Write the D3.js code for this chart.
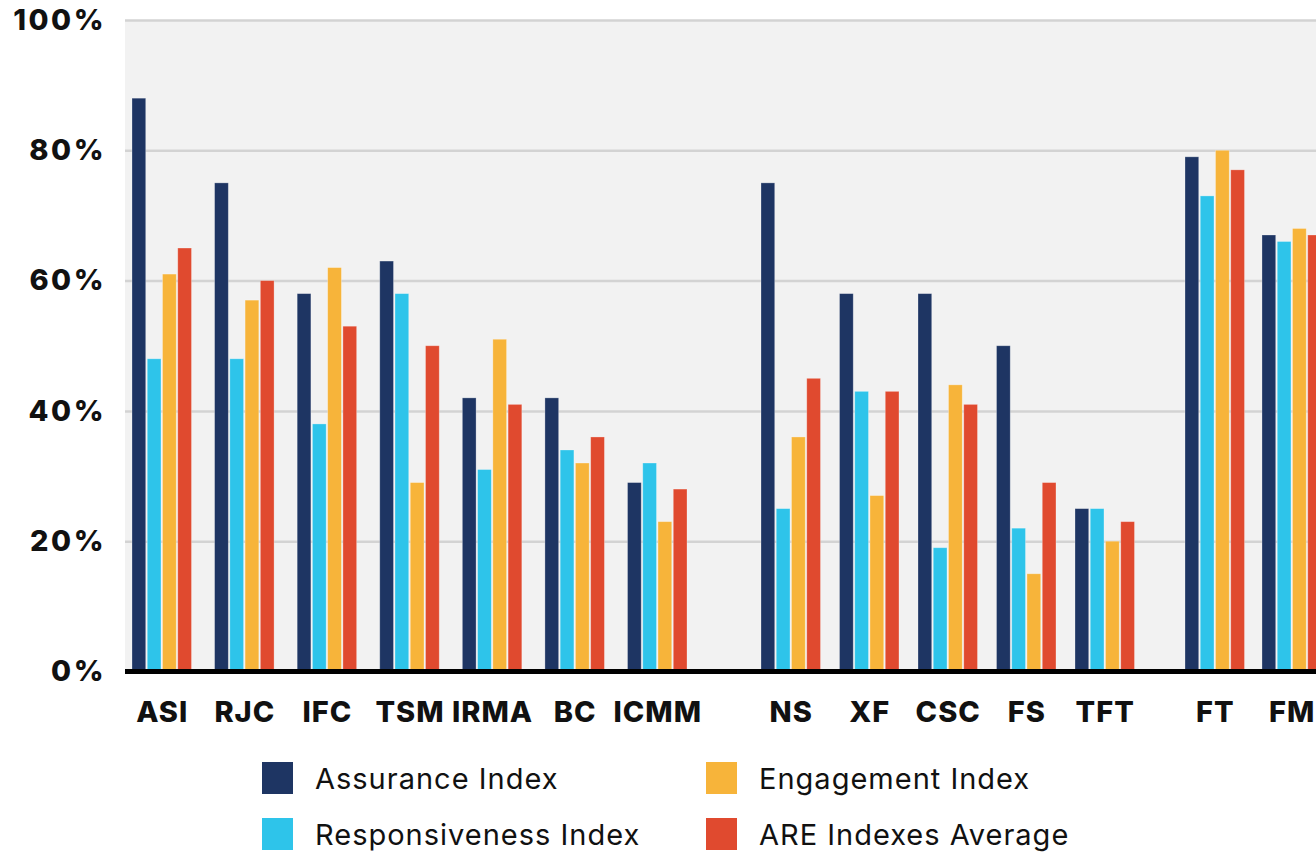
<!DOCTYPE html>
<html>
<head>
<meta charset="utf-8">
<script src="https://cdn.jsdelivr.net/npm/d3@7/dist/d3.min.js"></script>
<style>
  html, body { margin: 0; padding: 0; background: #ffffff; }
  svg { display: block; }
</style>
</head>
<body>
<svg id="chart" width="1316" height="852"></svg>
<script>
// ---------------- DATA ----------------
const categories = ["ASI", "RJC", "IFC", "TSM", "IRMA", "BC", "ICMM", "NS", "XF", "CSC", "FS", "TFT", "FT", "FM"];
const categoryGroup = [0, 0, 0, 0, 0, 0, 0, 1, 1, 1, 1, 1, 2, 2];
const seriesNames = ["Assurance Index", "Responsiveness Index", "Engagement Index", "ARE Indexes Average"];
const assurance      = [88, 75, 58, 63, 42, 42, 29, 75, 58, 58, 50, 25, 79, 67];
const responsiveness = [48, 48, 38, 58, 31, 34, 32, 25, 43, 19, 22, 25, 73, 66];
const engagement     = [61, 57, 62, 29, 51, 32, 23, 36, 27, 44, 15, 20, 80, 68];
const areAverage     = [65, 60, 53, 50, 41, 36, 28, 45, 43, 41, 29, 23, 77, 67];
const yTicks = [0, 20, 40, 60, 80, 100];

// ---------------- LAYOUT ----------------
const W = 1316, H = 852;
const plot = { left: 125, right: 1316, top: 20, bottom: 671.5 };
const colors = ["#1e3563", "#2ec4ea", "#f7b43a", "#e04a2f"];
const groupRanges = [[132, 687], [761, 1134.5], [1185, 1321.5]];
const groupPadding = [0.2797, 0.242, 0.227];

const seriesValues = [assurance, responsiveness, engagement, areAverage];
const svg = d3.select("#chart");

const y = d3.scaleLinear().domain([0, 100]).range([plot.bottom, plot.top]);

// one band scale per group of categories
const groupScales = groupRanges.map((r, g) =>
  d3.scaleBand()
    .domain(categories.filter((c, i) => categoryGroup[i] === g))
    .range(r)
    .paddingInner(groupPadding[g])
    .paddingOuter(0)
);
const xCat = c => groupScales[categoryGroup[categories.indexOf(c)]](c);
const bandW = groupScales[0].bandwidth();
const xSeries = d3.scaleBand().domain(seriesNames).range([0, bandW]).paddingInner(0.1);

// background
svg.append("rect")
  .attr("x", plot.left).attr("y", plot.top)
  .attr("width", plot.right - plot.left).attr("height", plot.bottom - plot.top)
  .attr("fill", "#f2f2f2");

// gridlines
const grid = svg.append("g").attr("transform", `translate(${plot.left},0)`)
  .call(d3.axisLeft(y).tickValues(yTicks.filter(t => t > 0)).tickSize(-(plot.right - plot.left)).tickFormat(""));
grid.select(".domain").remove();
grid.selectAll("line").attr("stroke", "#d3d3d3").attr("stroke-width", 2.5);

// y axis labels
const yAxis = svg.append("g").attr("transform", `translate(${plot.left},0)`)
  .call(d3.axisLeft(y).tickValues(yTicks).tickSize(0).tickPadding(19).tickFormat(d => d + "%"));
yAxis.select(".domain").remove();
yAxis.selectAll("text")
  .attr("font-family", "Inter, 'DejaVu Sans', sans-serif")
  .attr("font-weight", 800)
  .attr("font-size", 29)
  .attr("letter-spacing", 2.5)
  .attr("fill", "#111");

// bars
const rows = categories.map((c, i) => ({ cat: c, vals: seriesValues.map((s, k) => ({ name: seriesNames[k], v: s[i], k })) }));
const groups = svg.append("g").selectAll("g").data(rows).join("g")
  .attr("transform", d => `translate(${xCat(d.cat)},0)`);
groups.selectAll("rect").data(d => d.vals).join("rect")
  .attr("x", d => xSeries(d.name))
  .attr("width", xSeries.bandwidth())
  .attr("y", d => y(d.v))
  .attr("height", d => y(0) - y(d.v))
  .attr("fill", d => colors[d.k])
  .attr("stroke", "rgba(255,255,255,0.35)")
  .attr("stroke-width", 0.8);

// baseline
svg.append("line")
  .attr("x1", plot.left).attr("x2", plot.right)
  .attr("y1", y(0)).attr("y2", y(0))
  .attr("stroke", "#000").attr("stroke-width", 5);

// x labels
svg.append("g").selectAll("text").data(categories).join("text")
  .attr("x", c => xCat(c) + bandW / 2 + 0.5)
  .attr("y", 722)
  .attr("text-anchor", "middle")
  .attr("font-family", "Inter, 'DejaVu Sans', sans-serif")
  .attr("font-weight", 800)
  .attr("font-size", 29)
  .attr("letter-spacing", 1)
  .attr("fill", "#111")
  .text(c => c);

// legend
const legendPos = [[262, 762], [262, 818], [706, 762], [706, 818]];
const legend = svg.append("g").selectAll("g").data(seriesNames).join("g")
  .attr("transform", (d, i) => `translate(${legendPos[i][0]},${legendPos[i][1]})`);
legend.append("rect")
  .attr("width", 31).attr("height", 32)
  .attr("fill", (d, i) => colors[i]);
legend.append("text")
  .attr("x", 53).attr("y", 27)
  .attr("font-family", "Inter, 'DejaVu Sans', sans-serif")
  .attr("font-weight", 400)
  .attr("font-size", 29)
  .attr("letter-spacing", 1)
  .attr("fill", "#111")
  .text(d => d);
</script>
</body>
</html>
